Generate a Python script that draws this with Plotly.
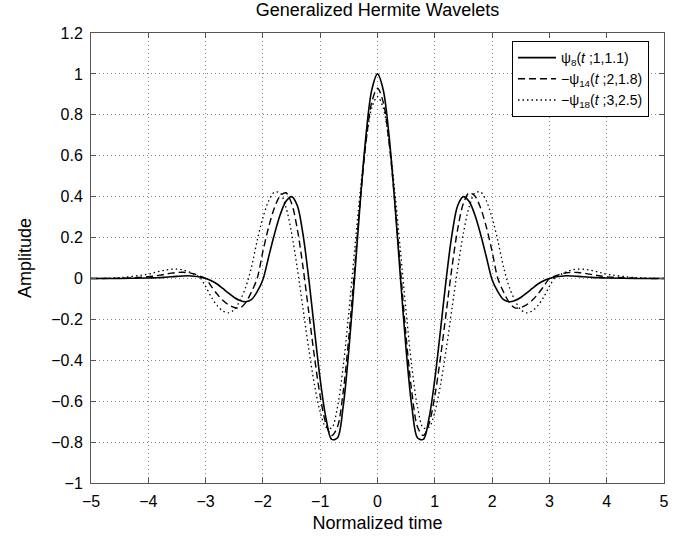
import plotly.graph_objects as go

# sample times (normalized time)
t = [-5.0, -4.5, -4.0, -3.9, -3.8, -3.7, -3.6, -3.5, -3.4, -3.3, -3.2, -3.1, -3.0,
     -2.9, -2.8, -2.7, -2.6, -2.5, -2.4, -2.3, -2.2, -2.1, -2.0,
     -1.9, -1.8, -1.7, -1.6, -1.5, -1.4, -1.3, -1.2, -1.1, -1.0,
     -0.9, -0.8, -0.7, -0.6, -0.5, -0.4, -0.3, -0.2, -0.1, 0.0,
     0.1, 0.2, 0.3, 0.4, 0.5, 0.6, 0.7, 0.8, 0.9, 1.0,
     1.1, 1.2, 1.3, 1.4, 1.5, 1.6, 1.7, 1.8, 1.9, 2.0,
     2.1, 2.2, 2.3, 2.4, 2.5, 2.6, 2.7, 2.8, 2.9, 3.0,
     3.1, 3.2, 3.3, 3.4, 3.5, 3.6, 3.7, 3.8, 3.9, 4.0, 4.5, 5.0]

# psi_8(t;1,1.1)
psi8 = [0.000, 0.000, 0.002, 0.003, 0.004, 0.006, 0.008, 0.010, 0.012, 0.013, 0.011, 0.007, 0.000,
        -0.011, -0.027, -0.049, -0.072, -0.093, -0.108, -0.114, -0.104, -0.064, -0.006,
        0.105, 0.215, 0.310, 0.376, 0.400, 0.357, 0.215, 0.000, -0.251, -0.493,
        -0.682, -0.787, -0.780, -0.628, -0.350, 0.005, 0.378, 0.702, 0.922, 1.000,
        0.922, 0.702, 0.378, 0.005, -0.350, -0.628, -0.780, -0.787, -0.682, -0.493,
        -0.251, 0.000, 0.215, 0.357, 0.400, 0.376, 0.310, 0.215, 0.105, -0.006,
        -0.064, -0.104, -0.114, -0.108, -0.093, -0.072, -0.049, -0.027, -0.011, 0.000,
        0.007, 0.011, 0.013, 0.012, 0.010, 0.008, 0.006, 0.004, 0.003, 0.002, 0.000, 0.000]

# -psi_14(t;2,1.8)
psi14 = [0.000, 0.001, 0.008, 0.012, 0.016, 0.021, 0.026, 0.029, 0.030, 0.028, 0.022, 0.012, 0.000,
         -0.039, -0.076, -0.107, -0.129, -0.142, -0.144, -0.118, -0.066, 0.000, 0.132,
         0.251, 0.344, 0.403, 0.419, 0.368, 0.242, 0.055, -0.164, -0.384, -0.575,
         -0.710, -0.768, -0.727, -0.557, -0.286, 0.046, 0.382, 0.668, 0.862, 0.930,
         0.862, 0.668, 0.382, 0.046, -0.286, -0.557, -0.727, -0.768, -0.710, -0.575,
         -0.384, -0.164, 0.055, 0.242, 0.368, 0.419, 0.403, 0.344, 0.251, 0.132,
         0.000, -0.066, -0.118, -0.144, -0.142, -0.129, -0.107, -0.076, -0.039, 0.000,
         0.012, 0.022, 0.028, 0.030, 0.029, 0.026, 0.021, 0.016, 0.012, 0.008, 0.001, 0.000]

# -psi_18(t;3,2.5)
psi18 = [0.000, 0.004, 0.021, 0.028, 0.035, 0.041, 0.045, 0.046, 0.042, 0.033, 0.020, 0.005, -0.039,
         -0.091, -0.132, -0.159, -0.168, -0.152, -0.108, -0.043, 0.055, 0.185, 0.297,
         0.379, 0.422, 0.418, 0.350, 0.223, 0.050, -0.147, -0.344, -0.520, -0.653,
         -0.728, -0.731, -0.631, -0.434, -0.165, 0.136, 0.429, 0.672, 0.834, 0.890,
         0.834, 0.672, 0.429, 0.136, -0.165, -0.434, -0.631, -0.731, -0.728, -0.653,
         -0.520, -0.344, -0.147, 0.050, 0.223, 0.350, 0.418, 0.422, 0.379, 0.297,
         0.185, 0.055, -0.043, -0.108, -0.152, -0.168, -0.159, -0.132, -0.091, -0.039,
         0.005, 0.020, 0.033, 0.042, 0.046, 0.045, 0.041, 0.035, 0.028, 0.021, 0.004, 0.000]

names = ["ψ<sub>8</sub>(<i>t</i> ;1,1.1)",
         "−ψ<sub>14</sub>(<i>t</i> ;2,1.8)",
         "−ψ<sub>18</sub>(<i>t</i> ;3,2.5)"]

x_ticks = [-5, -4, -3, -2, -1, 0, 1, 2, 3, 4, 5]
x_labels = ["−5", "−4", "−3", "−2", "−1", "0", "1", "2", "3", "4", "5"]
y_ticks = [-1, -0.8, -0.6, -0.4, -0.2, 0, 0.2, 0.4, 0.6, 0.8, 1, 1.2]
y_labels = ["−1", "−0.8", "−0.6", "−0.4", "−0.2", "0", "0.2", "0.4", "0.6", "0.8", "1", "1.2"]

FONT = "Liberation Sans, Arial, Helvetica, sans-serif"
W, H = 697, 544
L, R, T, B = 91, 33, 33, 61

fig = go.Figure()
fig.add_trace(go.Scatter(x=t, y=psi8, mode="lines", name=names[0],
                         line=dict(color="black", width=1.6, shape="spline", smoothing=0.9)))
fig.add_trace(go.Scatter(x=t, y=psi14, mode="lines", name=names[1],
                         line=dict(color="black", width=1.4, dash="7px,4px", shape="spline", smoothing=0.9)))
fig.add_trace(go.Scatter(x=t, y=psi18, mode="lines", name=names[2],
                         line=dict(color="black", width=1.3, dash="1.5px,3px", shape="spline", smoothing=0.9)))

axis_common = dict(showline=True, linecolor="#555555", linewidth=1, mirror="ticks",
                   ticks="inside", ticklen=5, tickcolor="#555555",
                   showgrid=True, gridcolor="#8a8a8a", griddash="1px,3px", gridwidth=1,
                   zeroline=False, tickfont=dict(size=16, color="black", family=FONT))

fig.update_xaxes(range=[-5, 5], tickvals=x_ticks, ticktext=x_labels, ticklabelstandoff=4,
                 title=dict(text="Normalized time", font=dict(size=18, color="black", family=FONT), standoff=7),
                 **axis_common)
fig.update_yaxes(range=[-1, 1.2], tickvals=y_ticks, ticktext=y_labels, ticklabelstandoff=4,
                 title=dict(text="Amplitude", font=dict(size=18, color="black", family=FONT), standoff=14),
                 **axis_common)

fig.update_layout(
    width=W, height=H,
    margin=dict(l=L, r=R, t=T, b=B),
    paper_bgcolor="white", plot_bgcolor="white",
    font=dict(family=FONT, color="black", size=16),
    title=dict(text="Generalized Hermite Wavelets", x=(L + (W - L - R) / 2) / W, xref="container",
               xanchor="center", y=1 - 10 / H, yref="container", yanchor="middle",
               font=dict(size=18, color="black", family=FONT)),
    legend=dict(x=(512 - L) / (W - L - R), y=(H - B - 41) / (H - T - B), xanchor="left", yanchor="top",
                bgcolor="white", bordercolor="black", borderwidth=1, itemwidth=38,
                font=dict(size=14, color="black", family=FONT)),
    showlegend=True,
)

fig.write_html("out.html", config={"displayModeBar": False},
               post_script="document.body.style.margin='0px';")
